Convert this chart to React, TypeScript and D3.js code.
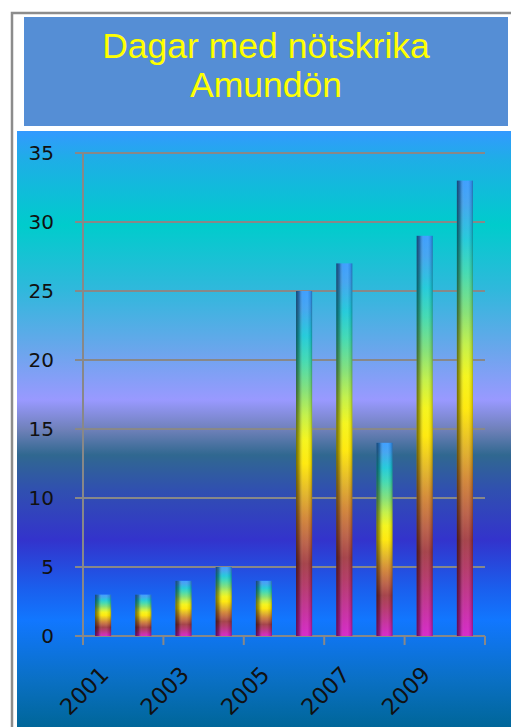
import React from "react";
import * as d3 from "d3";

const years = ["2001","2002","2003","2004","2005","2006","2007","2008","2009","2010"];
const days = [3, 3, 4, 5, 4, 25, 27, 14, 29, 33];
const yTicks = [0, 5, 10, 15, 20, 25, 30, 35];
const labelYears = ["2001","2003","2005","2007","2009"];
const titleLines = ["Dagar med nötskrika", "Amundön"];

const barStops: [number, string][] = [
  [0, "#d41ec8"], [0.08, "#c02890"], [0.15, "#b03060"], [0.21, "#a03840"],
  [0.27, "#b85a40"], [0.34, "#d08030"], [0.41, "#e0b020"], [0.5, "#ffe800"],
  [0.57, "#f4f410"], [0.64, "#c0f040"], [0.71, "#80e070"], [0.8, "#38d8b0"],
  [0.87, "#18c8d8"], [0.95, "#3aa0f0"], [1, "#3399ff"],
];

const bgStops: [number, string][] = [
  [131, "#3399ff"], [160, "#1eaee6"], [225, "#00cccc"], [290, "#30b8dc"],
  [350, "#6aa6ec"], [400, "#9999ff"], [430, "#6e80b8"], [455, "#306890"],
  [490, "#3050b0"], [540, "#3333cc"], [590, "#1a60ee"], [620, "#1177ff"],
  [680, "#0a70c4"], [727, "#006699"],
];

export default function App() {
  const W = 511, H = 727;
  const x = d3.scaleBand<string>().domain(years).range([83, 485]).paddingInner(0.6).paddingOuter(0.3);
  const y = d3.scaleLinear().domain([0, 35]).range([636, 153]);
  const x0 = 83;
  const xBoundary = (i: number) => x0 + ((485 - x0) / years.length) * i;
  const bgTop = 131, bgBot = 727;

  return (
    <svg width={W} height={H} style={{ position: "fixed", left: 0, top: 0 }} fontFamily="'DejaVu Sans', Verdana, sans-serif">
      <defs>
        <linearGradient id="bg" x1="0" y1={bgTop} x2="0" y2={bgBot} gradientUnits="userSpaceOnUse">
          {bgStops.map(([p, c], i) => (
            <stop key={i} offset={(p - bgTop) / (bgBot - bgTop)} stopColor={c} />
          ))}
        </linearGradient>
        <linearGradient id="barFill" x1="0" y1="1" x2="0" y2="0">
          {barStops.map(([p, c], i) => (
            <stop key={i} offset={p} stopColor={c} />
          ))}
        </linearGradient>
        <linearGradient id="barShade" x1="0" y1="0" x2="1" y2="0">
          <stop offset="0" stopColor="#000" stopOpacity={0.55} />
          <stop offset="0.2" stopColor="#000" stopOpacity={0.3} />
          <stop offset="0.45" stopColor="#fff" stopOpacity={0.06} />
          <stop offset="0.7" stopColor="#fff" stopOpacity={0.08} />
          <stop offset="0.9" stopColor="#000" stopOpacity={0.1} />
          <stop offset="1" stopColor="#000" stopOpacity={0.3} />
        </linearGradient>
      </defs>
      <rect x={0} y={0} width={W} height={H} fill="#ffffff" />
      <rect x={12} y={13} width={W + 10} height={H + 10} fill="none" stroke="#8c8c8c" strokeWidth={2.5} />
      <rect x={24} y={17} width={484} height={109} fill="#558ed5" />
      {titleLines.map((t, i) => (
        <text key={i} x={266} y={58 + i * 39} textAnchor="middle" fill="#ffff00" fontSize={35.5}
          fontFamily="'Liberation Sans', Arial, sans-serif">{t}</text>
      ))}
      <rect x={17} y={bgTop} width={W - 17} height={bgBot - bgTop} fill="url(#bg)" />
      {yTicks.map((t) => (
        <g key={t}>
          <line x1={75} x2={485} y1={y(t)} y2={y(t)} stroke="#888888" strokeWidth={2} />
          <text x={54} y={y(t) + 7} textAnchor="end" fontSize={20} fill="#111">{t}</text>
        </g>
      ))}
      <line x1={83} x2={83} y1={y(35)} y2={y(0)} stroke="#888888" strokeWidth={2} />
      {d3.range(0, years.length + 1, 2).map((i) => (
        <line key={i} x1={xBoundary(i)} x2={xBoundary(i)} y1={y(0)} y2={y(0) + 9} stroke="#888888" strokeWidth={2} />
      ))}
      {years.map((yr, i) => {
        const bx = x(yr)!;
        const bw = x.bandwidth();
        const top = y(days[i]);
        const h = y(0) - top;
        return (
          <g key={yr}>
            <rect x={bx} y={top} width={bw} height={h} fill="url(#barFill)" />
            <rect x={bx} y={top} width={bw} height={h} fill="url(#barShade)" />
          </g>
        );
      })}
      {labelYears.map((yr) => {
        const cx = x(yr)! + x.bandwidth() / 2 + 7;
        const cy = y(0) + 40;
        return (
          <text key={yr} x={cx} y={cy} textAnchor="end" fontSize={22.5} fill="#111"
            transform={`rotate(-45 ${cx} ${cy})`}>{yr}</text>
        );
      })}
    </svg>
  );
}
